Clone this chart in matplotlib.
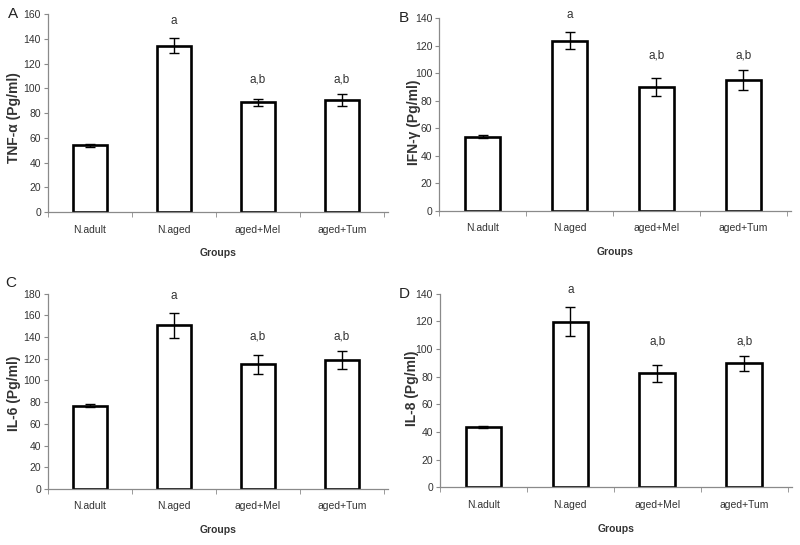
"""Four-panel cytokine bar chart (TNF-a, IFN-g, IL-6, IL-8) by group."""
import matplotlib
matplotlib.use("Agg")
import matplotlib.pyplot as plt
import numpy as np

plt.rcParams["font.family"] = ["Liberation Sans", "DejaVu Sans"]

groups = ["N.adult", "N.aged", "aged+Mel", "aged+Tum"]

tnf_mean = [53.8, 134.4, 88.7, 90.4]
tnf_err = [1.0, 6.0, 3.0, 5.0]
ifn_mean = [53.9, 123.5, 89.6, 95.1]
ifn_err = [1.0, 6.0, 6.5, 7.0]
il6_mean = [76.9, 150.8, 114.8, 119.2]
il6_err = [1.0, 11.8, 8.6, 8.3]
il8_mean = [43.8, 119.7, 82.4, 89.6]
il8_err = [0.8, 10.5, 6.3, 5.7]

sig_labels = ["", "a", "a,b", "a,b"]

# letter, ylabel, means, errors, ymax, axes rect, ylabel coords, letter coords
panels = [
    ("A", "TNF-\u03b1 (Pg/ml)", tnf_mean, tnf_err, 160,
     [0.060, 0.611, 0.425, 0.363], (-0.080, 0.475), (-0.103, 1.00)),
    ("B", "IFN-\u03b3 (Pg/ml)", ifn_mean, ifn_err, 140,
     [0.549, 0.613, 0.440, 0.354], (-0.051, 0.46), (-0.100, 1.00)),
    ("C", "IL-6 (Pg/ml)", il6_mean, il6_err, 180,
     [0.060, 0.103, 0.425, 0.358], (-0.080, 0.49), (-0.109, 1.055)),
    ("D", "IL-8 (Pg/ml)", il8_mean, il8_err, 140,
     [0.550, 0.106, 0.440, 0.355], (-0.060, 0.51), (-0.102, 1.00)),
]

AXIS_GRAY = "#8a8a8a"
TEXT_GRAY = "#333333"

fig = plt.figure(figsize=(8.0, 5.45), dpi=100)

for letter, ylabel, mean, err, ymax, rect, ylab_xy, let_xy in panels:
    ax = fig.add_axes(rect)
    x = np.arange(len(groups))
    ax.bar(x, mean, width=0.41, color="white", edgecolor="black",
           linewidth=1.9, zorder=2)
    ax.errorbar(x, mean, yerr=err, fmt="none", ecolor="black",
                elinewidth=1.0, capsize=3.5, capthick=1.0, zorder=3)

    # significance letters: the "a,b" pair sits at a shared height
    tops = [m + e for m, e in zip(mean, err)]
    ab_top = max(t for t, s in zip(tops, sig_labels) if s == "a,b")
    for xi, t, s in zip(x, tops, sig_labels):
        if not s:
            continue
        base, off = (ab_top, 6) if s == "a,b" else (t, 8)
        ax.annotate(s, (xi, base), xytext=(0, off), textcoords="offset points",
                    ha="center", va="bottom", fontsize=8.5, color=TEXT_GRAY)

    ax.set_xlim(-0.5, len(groups) - 0.45)
    ax.set_ylim(0, ymax)
    ax.set_yticks(np.arange(0, ymax + 1, 20))
    ax.set_xticks(x)
    ax.set_xticklabels(groups)
    ax.set_xticks(np.arange(-0.5, len(groups)), minor=True)
    ax.tick_params(axis="x", which="major", length=0, pad=9,
                   labelsize=7.5, labelcolor=TEXT_GRAY)
    ax.tick_params(axis="x", which="minor", length=3.5, color=AXIS_GRAY,
                   direction="out")
    ax.tick_params(axis="y", length=3, color=AXIS_GRAY, direction="out",
                   labelsize=7.5, labelcolor=TEXT_GRAY, pad=2)

    for side in ("top", "right"):
        ax.spines[side].set_visible(False)
    for side in ("left", "bottom"):
        ax.spines[side].set_color(AXIS_GRAY)
        ax.spines[side].set_linewidth(0.9)

    ax.set_ylabel(ylabel, fontsize=10, fontweight="bold", color=TEXT_GRAY)
    ax.yaxis.set_label_coords(*ylab_xy)
    ax.set_xlabel("Groups", fontsize=7.5, fontweight="bold", color=TEXT_GRAY,
                  labelpad=10)

    ax.text(let_xy[0], let_xy[1], letter, transform=ax.transAxes,
            fontsize=11, ha="center", va="center", color="#222222")

fig.savefig("out.png", dpi=100)
